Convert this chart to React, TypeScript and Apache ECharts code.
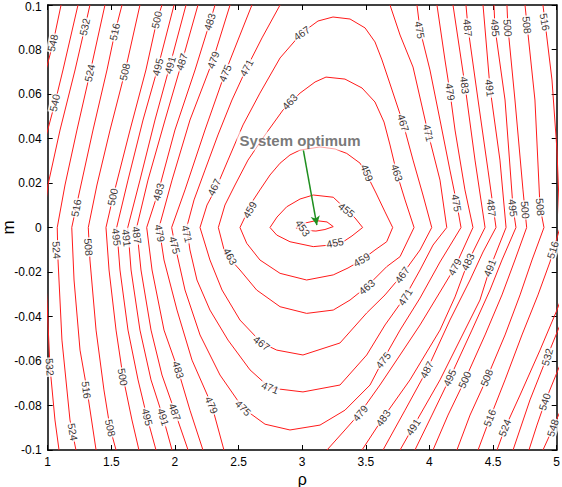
import { useEffect, useRef } from 'react';
import * as echarts from 'echarts';

type Pt = [number, number];

const FONT = 'Arial, "Liberation Sans", Helvetica, sans-serif';

const rhoRange = { min: 1, max: 5, step: 0.5 };
const mRange = { min: -0.1, max: 0.1, step: 0.02 };

// contour branches, [rho, m] points
const c453: Pt[][] = [[[2.951,-0.0002],[3.022,0.0020],[3.108,0.0031],[3.195,0.0025],[3.244,0.0004],[3.179,-0.0009],[3.108,-0.0016],[3.022,-0.0013],[2.951,-0.0002]]];
const c455: Pt[][] = [[[2.747,0],[2.802,0.0047],[2.878,0.0093],[2.983,0.0128],[3.087,0.0146],[3.244,0.0136],[3.350,0.0079],[3.415,0.0043],[3.475,0],[3.391,-0.0038],[3.323,-0.0064],[3.218,-0.0079],[3.087,-0.0086],[2.904,-0.0064],[2.800,-0.0034],[2.747,0]]];
const c459: Pt[][] = [[[2.511,0],[2.558,0.0056],[2.606,0.0115],[2.668,0.0169],[2.747,0.0236],[2.826,0.0289],[2.904,0.0326],[2.983,0.0348],[3.140,0.0362],[3.258,0.0353],[3.350,0.0333],[3.455,0.0289],[3.517,0.0227],[3.580,0.0155],[3.651,0.0070],[3.711,0],[3.664,-0.0064],[3.572,-0.0101],[3.468,-0.0146],[3.360,-0.0182],[3.244,-0.0213],[3.035,-0.0236],[2.826,-0.0206],[2.668,-0.0146],[2.564,-0.0071],[2.511,0]]];
const c463: Pt[][] = [[[2.341,0],[2.393,0.0101],[2.472,0.0191],[2.574,0.0303],[2.708,0.0416],[2.849,0.0528],[2.983,0.0604],[3.101,0.0654],[3.187,0.0676],[3.336,0.0667],[3.470,0.0627],[3.572,0.0564],[3.643,0.0474],[3.690,0.0371],[3.743,0.0245],[3.808,0.0124],[3.879,0],[3.769,-0.0131],[3.664,-0.0176],[3.507,-0.0266],[3.376,-0.0326],[3.244,-0.0371],[3.035,-0.0386],[2.826,-0.0356],[2.642,-0.0281],[2.511,-0.0191],[2.393,-0.0116],[2.341,0]]];
const c467: Pt[][] = [[[2.197,0],[2.252,0.0101],[2.328,0.0183],[2.417,0.0303],[2.535,0.0461],[2.668,0.0604],[2.826,0.0762],[2.996,0.0874],[3.124,0.0928],[3.242,0.0946],[3.376,0.0937],[3.494,0.0897],[3.572,0.0834],[3.627,0.0753],[3.706,0.0618],[3.792,0.0470],[3.871,0.0303],[3.949,0.0146],[4.018,0],[3.926,-0.0101],[3.784,-0.0213],[3.651,-0.0303],[3.507,-0.0384],[3.297,-0.0519],[3.006,-0.0573],[2.800,-0.0551],[2.682,-0.0519],[2.511,-0.0416],[2.370,-0.0281],[2.275,-0.0146],[2.197,0]]];
const c471: Pt[][] = [[[2.826,0.1],[2.684,0.0852],[2.564,0.0717],[2.448,0.0573],[2.338,0.0416],[2.236,0.0258],[2.150,0.0124],[2.092,0],[2.118,-0.0101],[2.173,-0.0236],[2.275,-0.0371],[2.417,-0.0506],[2.590,-0.0640],[2.747,-0.0721],[3.006,-0.0739],[3.297,-0.0708],[3.507,-0.0573],[3.651,-0.0438],[3.808,-0.0312],[3.926,-0.0191],[4.028,-0.0079],[4.136,0],[4.083,0.0213],[3.989,0.0425],[3.871,0.0721],[3.769,0.0865],[3.690,0.1]]];
const c475: Pt[][] = [[[2.605,0.1],[2.511,0.0865],[2.393,0.0694],[2.236,0.0438],[2.079,0.0169],[1.974,0],[2.000,-0.0079],[2.079,-0.0281],[2.197,-0.0483],[2.354,-0.0663],[2.535,-0.0812],[2.708,-0.0884],[2.904,-0.0910],[3.140,-0.0888],[3.336,-0.0821],[3.533,-0.0708],[3.635,-0.0596],[3.769,-0.0461],[3.926,-0.0317],[4.083,-0.0155],[4.248,0],[4.214,0.0110],[4.161,0.0258],[4.083,0.0483],[4.004,0.0708],[3.926,0.0888],[3.902,0.1]]];
const c479: Pt[][] = [
  [[2.433,0.1],[2.299,0.0753],[2.118,0.0483],[1.977,0.0213],[1.875,0],[1.914,-0.0146],[2.016,-0.0371],[2.134,-0.0596],[2.289,-0.0798],[2.385,-0.1]],
  [[3.195,-0.1],[3.336,-0.0910],[3.454,-0.0834],[3.611,-0.0708],[3.769,-0.0573],[3.926,-0.0438],[4.083,-0.0290],[4.201,-0.0178],[4.342,0],[4.279,0.0169],[4.201,0.0438],[4.161,0.0609],[4.122,0.0753],[4.059,0.1]],
];
const c483: Pt[][] = [
  [[2.315,0.1],[2.275,0.0924],[2.158,0.0708],[2.000,0.0438],[1.869,0.0160],[1.778,0],[1.820,-0.0191],[1.914,-0.0461],[2.024,-0.0640],[2.118,-0.0821],[2.220,-0.1]],
  [[3.470,-0.1],[3.635,-0.0856],[3.847,-0.0685],[4.083,-0.0461],[4.201,-0.0312],[4.303,-0.0155],[4.437,0],[4.358,0.0303],[4.279,0.0640],[4.185,0.1]],
];
const c487: Pt[][] = [
  [[2.181,0.1],[2.055,0.0744],[1.922,0.0483],[1.788,0.0213],[1.699,0],[1.733,-0.0191],[1.812,-0.0461],[1.898,-0.0663],[2.000,-0.0829],[2.103,-0.1]],
  [[3.635,-0.1],[3.808,-0.0821],[3.981,-0.0640],[4.161,-0.0416],[4.319,-0.0236],[4.421,-0.0110],[4.523,0],[4.460,0.0258],[4.382,0.0573],[4.303,0.0897],[4.287,0.1]],
];
const c491: Pt[][] = [
  [[2.087,0.1],[1.961,0.0730],[1.843,0.0483],[1.725,0.0213],[1.629,0],[1.655,-0.0191],[1.725,-0.0461],[1.812,-0.0685],[1.906,-0.0852],[1.977,-0.1]],
  [[3.769,-0.1],[3.871,-0.0897],[4.083,-0.0685],[4.279,-0.0461],[4.397,-0.0326],[4.476,-0.0182],[4.602,0],[4.554,0.0303],[4.476,0.0627],[4.421,0.1]],
];
const c495: Pt[][] = [
  [[1.993,0.1],[1.867,0.0721],[1.749,0.0483],[1.631,0.0213],[1.542,0],[1.568,-0.0191],[1.631,-0.0461],[1.710,-0.0685],[1.780,-0.0852],[1.851,-0.1]],
  [[3.886,-0.1],[4.020,-0.0843],[4.161,-0.0676],[4.334,-0.0461],[4.476,-0.0281],[4.570,-0.0146],[4.680,0],[4.657,0.0088],[4.594,0.0573],[4.515,0.0897],[4.507,0.1]],
];
const c500: Pt[][] = [
  [[1.898,0.1],[1.859,0.0933],[1.772,0.0708],[1.647,0.0438],[1.513,0.0137],[1.458,0],[1.482,-0.0191],[1.537,-0.0461],[1.592,-0.0672],[1.662,-0.0865],[1.717,-0.1]],
  [[4.028,-0.1],[4.146,-0.0843],[4.279,-0.0685],[4.437,-0.0483],[4.570,-0.0303],[4.672,-0.0146],[4.764,0],[4.735,0.0169],[4.672,0.0573],[4.617,0.0897],[4.609,0.1]],
];
const c508: Pt[][] = [
  [[1.725,0.1],[1.607,0.0699],[1.490,0.0438],[1.387,0.0191],[1.319,0],[1.332,-0.0146],[1.380,-0.0461],[1.442,-0.0730],[1.490,-0.0901],[1.537,-0.1]],
  [[4.216,-0.1],[4.319,-0.0843],[4.452,-0.0676],[4.594,-0.0483],[4.712,-0.0303],[4.806,-0.0146],[4.900,0],[4.869,0.0092],[4.829,0.0573],[4.767,0.0910],[4.751,0.1]],
];
const c516: Pt[][] = [
  [[1.584,0.1],[1.529,0.0879],[1.466,0.0708],[1.356,0.0438],[1.222,0.0088],[1.189,0],[1.207,-0.0236],[1.254,-0.0551],[1.309,-0.0730],[1.380,-0.1]],
  [[4.382,-0.1],[4.476,-0.0856],[4.594,-0.0685],[4.727,-0.0483],[4.853,-0.0303],[4.947,-0.0155],[5.026,0],[5.002,0.0348],[4.963,0.0663],[4.908,0.0924],[4.892,0.1]],
];
const c524: Pt[][] = [
  [[1.450,0.1],[1.332,0.0694],[1.230,0.0438],[1.136,0.0191],[1.075,0],[1.081,-0.0146],[1.112,-0.0506],[1.175,-0.0865],[1.222,-0.1]],
  [[4.531,-0.1],[4.594,-0.0901],[4.712,-0.0753],[4.869,-0.0551],[5.002,-0.0371],[5.144,-0.0146],[5.262,0]],
];
const c532: Pt[][] = [
  [[1.332,0.1],[1.293,0.0901],[1.215,0.0708],[1.097,0.0438],[1.002,0.0191],[0.963,0],[0.994,-0.0326],[1.018,-0.0627],[1.057,-0.0865],[1.089,-0.1]],
  [[4.657,-0.1],[4.790,-0.0775],[4.924,-0.0582],[5.042,-0.0416],[5.183,-0.0191]],
];
const c540: Pt[][] = [
  [[1.238,0.1],[1.120,0.0708],[1.057,0.0560],[0.979,0.0393],[0.861,0]],
  [[4.782,-0.1],[4.845,-0.0888],[4.908,-0.0784],[5.026,-0.0618],[5.183,-0.0416]],
];
const c548: Pt[][] = [
  [[1.105,0.1],[1.042,0.0829],[0.987,0.0708],[0.900,0.0483],[0.743,0]],
  [[4.892,-0.1],[4.971,-0.0901],[5.065,-0.0775],[5.183,-0.0618]],
];

const contourLevels: [number, Pt[][]][] = [
  [453, c453], [455, c455], [459, c459], [463, c463], [467, c467], [471, c471], [475, c475],
  [479, c479], [483, c483], [487, c487], [491, c491], [495, c495], [500, c500], [508, c508],
  [516, c516], [524, c524], [532, c532], [540, c540], [548, c548],
];

// [level, rho, m, rotation]
const contourLabels: [number, number, number, number][] = [
  [548,1.042,0.0829,77],[540,1.057,0.0560,77],[532,1.293,0.0901,77],[524,1.332,0.0694,77],[516,1.529,0.0879,77],
  [508,1.607,0.0699,77],[500,1.859,0.0933,77],[495,1.867,0.0721,76],[491,1.961,0.0730,75],[487,2.055,0.0744,73],
  [483,2.275,0.0924,73],[479,2.299,0.0753,70],[475,2.393,0.0694,67],[471,2.564,0.0717,62],[467,2.996,0.0874,35],
  [463,2.904,0.0564,48],
  [516,1.222,0.0088,80],[500,1.513,0.0137,78],[483,1.869,0.0160,75],[467,2.307,0.0182,64],[459,2.590,0.0079,60],
  [524,1.071,-0.0101,-86],[508,1.319,-0.0088,-85],[495,1.542,-0.0043,-83],[491,1.621,-0.0047,-83],[487,1.699,-0.0034,-82],
  [479,1.883,-0.0025,-80],[475,2.000,-0.0079,-75],[471,2.092,-0.0029,-77],[463,2.433,-0.0131,-62],[453,3.006,-0.0002,-55],
  [532,1.018,-0.0627,-86],[516,1.306,-0.0730,-83],[500,1.592,-0.0672,-80],[483,2.024,-0.0640,-73],[524,1.199,-0.0919,-80],
  [508,1.490,-0.0901,-78],[495,1.780,-0.0852,-76],[491,1.906,-0.0852,-73],[487,2.000,-0.0829,-70],[479,2.289,-0.0798,-67],
  [475,2.535,-0.0812,-45],[471,2.747,-0.0721,-22],[467,2.682,-0.0519,-37],
  [455,3.350,0.0079,-38],[455,3.258,-0.0070,12],[459,3.507,0.0245,-68],[459,3.468,-0.0146,30],[463,3.507,-0.0267,40],
  [463,3.743,0.0245,-72],[467,3.792,0.0470,-73],[471,3.989,0.0425,-77],[467,3.784,-0.0213,55],[471,3.808,-0.0312,58],
  [475,4.214,0.0110,-80],[487,4.489,0.0088,-84],[495,4.657,0.0088,-84],[500,4.751,0.0079,-85],[508,4.869,0.0092,-85],
  [516,4.971,-0.0101,72],[479,4.201,-0.0178,62],[483,4.303,-0.0155,65],[491,4.476,-0.0182,68],
  [475,3.926,0.0888,-80],[479,4.161,0.0609,-82],[483,4.279,0.0640,-83],[487,4.303,0.0897,-84],[491,4.476,0.0627,-84],
  [495,4.515,0.0897,-85],[500,4.617,0.0897,-86],[508,4.767,0.0910,-84],[516,4.908,0.0924,-80],
  [475,3.635,-0.0596,52],[479,3.454,-0.0834,50],[483,3.635,-0.0856,55],[487,3.981,-0.0640,62],[491,3.871,-0.0897,57],
  [495,4.161,-0.0676,65],[500,4.279,-0.0685,65],[508,4.452,-0.0676,68],[516,4.476,-0.0856,68],[524,4.594,-0.0901,68],
  [532,4.924,-0.0582,75],[540,4.908,-0.0784,72],[548,4.971,-0.0901,72],
];

const optimumText = 'System optimum';
const optimumTextPos: Pt = [2.983, 0.0389];
const arrowFrom: Pt = [3.009, 0.0348];
const arrowTo: Pt = [3.115, 0.0011];

const fmtM = (v: number) => {
  const s = String(Math.round(v * 100) / 100);
  return v >= mRange.max - 1e-9 ? `{top|${s}}` : s;
};

function frameAxis(position: string, showLabels: boolean) {
  return {
    type: 'value',
    position,
    axisLine: { show: true, onZero: false, lineStyle: { color: '#000', width: 1.5 } },
    axisTick: { show: true, inside: true, length: 5, lineStyle: { color: '#000', width: 1 } },
    axisLabel: { show: showLabels, color: '#000', fontSize: 12, fontFamily: FONT, margin: 6 },
    splitLine: { show: false },
  };
}

export default function App() {
  const ref = useRef<HTMLDivElement>(null);
  useEffect(() => {
    if (!ref.current) return;
    const chart = echarts.init(ref.current, undefined, { renderer: 'svg' });

    const lineSeries: any[] = [];
    contourLevels.forEach(([lvl, branches]) => {
      branches.forEach((b, i) => {
        lineSeries.push({
          type: 'line',
          name: `${lvl}-${i}`,
          data: b,
          showSymbol: false,
          symbol: 'none',
          clip: true,
          silent: true,
          z: 2,
          lineStyle: { color: '#ff1a1a', width: 1 },
        });
      });
    });

    const xBase = { min: rhoRange.min, max: rhoRange.max, interval: rhoRange.step };
    const yBase = { min: mRange.min, max: mRange.max, interval: mRange.step };

    chart.setOption({
      animation: false,
      backgroundColor: '#fff',
      grid: { left: 47.7, right: 5.3, top: 5, bottom: 37, containLabel: false, outerBoundsMode: 'none' },
      xAxis: [
        {
          ...frameAxis('bottom', true), ...xBase,
          name: 'ρ', nameLocation: 'middle', nameGap: 21, nameMoveOverlap: false,
          nameTextStyle: { fontSize: 16, color: '#000', fontFamily: FONT },
        },
        { ...frameAxis('top', false), ...xBase },
      ],
      yAxis: [
        {
          ...frameAxis('left', true), ...yBase,
          axisLabel: {
            show: true, color: '#000', fontSize: 12, fontFamily: FONT, margin: 6, formatter: fmtM,
            rich: { top: { fontSize: 12, fontFamily: FONT, color: '#000', padding: [4, 0, 0, 0] } },
          },
          name: 'm', nameLocation: 'middle', nameGap: 31, nameRotate: 90, nameMoveOverlap: false,
          nameTextStyle: { fontSize: 17, color: '#000', fontFamily: FONT },
        },
        { ...frameAxis('right', false), ...yBase },
      ],
      series: [
        ...lineSeries,
        {
          type: 'scatter',
          name: 'labels',
          silent: true,
          z: 5,
          symbolSize: 1,
          itemStyle: { color: 'rgba(0,0,0,0)' },
          label: {
            show: true, position: 'inside', color: '#000', fontSize: 10.5, fontFamily: FONT,
            backgroundColor: '#fff', padding: [0, 1],
          },
          data: contourLabels.map(([lvl, r, m, rot]) => ({
            value: [r, m],
            label: { formatter: String(lvl), rotate: rot },
          })),
        },
        {
          type: 'scatter',
          name: 'optimum',
          silent: true,
          z: 6,
          symbolSize: 1,
          itemStyle: { color: 'rgba(0,0,0,0)' },
          label: {
            show: true, position: 'inside', formatter: optimumText, color: '#555',
            fontSize: 15, fontWeight: 'bold', fontFamily: FONT,
            backgroundColor: 'rgba(255,255,255,0.75)', padding: [2, 3],
          },
          data: [optimumTextPos],
          markLine: {
            silent: true,
            symbol: ['none', 'arrow'],
            symbolSize: [7, 9],
            label: { show: false },
            lineStyle: { color: '#1f8f1f', width: 1.5, type: 'solid' },
            data: [[{ coord: arrowFrom }, { coord: arrowTo }]],
          },
        },
      ],
    });
    return () => chart.dispose();
  }, []);
  return <div ref={ref} style={{ position: 'fixed', left: 0, top: 0, width: 562, height: 487 }} />;
}
